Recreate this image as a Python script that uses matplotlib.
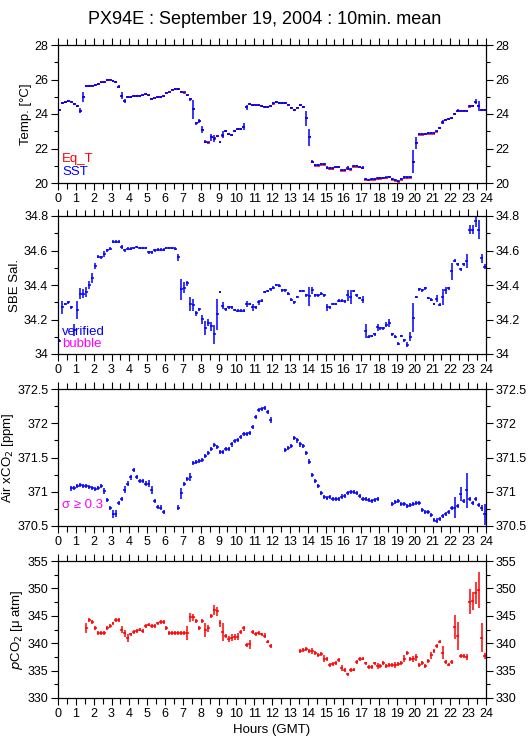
import numpy as np
import matplotlib
matplotlib.use("Agg")
import matplotlib.pyplot as plt
from matplotlib.ticker import MultipleLocator, FuncFormatter

plt.rcParams["font.family"] = ["Liberation Sans", "DejaVu Sans"]

# 10 minute means, one row per hour (6 values per row)
sst = [
    24.25, 24.65, 24.68, 24.75, 24.72, 24.60,
    24.45, 24.20, 25.00, 25.62, 25.64, 25.65,
    25.68, 25.72, 25.83, 25.85, 25.97, 26.00,
    25.92, 25.85, 25.58, 25.05, 24.75, 25.00,
    25.00, 25.05, 25.06, 25.06, 25.08, 25.14,
    25.08, 24.88, 24.90, 24.98, 25.00, 25.02,
    25.20, 25.30, 25.42, 25.45, 25.45, 25.30,
    25.25, 25.08, 24.85, 24.27, 23.46, 23.60,
    23.10, 22.40, 22.35, 22.65, 22.60, 22.70,
    22.36, 22.80, 23.00, 22.82, 22.80, 23.00,
    23.12, 23.15, 23.27, 24.40, 24.58, 24.52,
    24.50, 24.50, 24.45, 24.40, 24.42, 24.48,
    24.62, 24.70, 24.64, 24.62, 24.62, 24.55,
    24.33, 24.23, 24.37, 24.52, 24.42, 23.75,
    22.65, 21.24, 21.04, 21.04, 21.10, 21.10,
    20.89, 20.85, 20.85, 20.95, 20.95, 20.75,
    20.75, 20.85, 20.80, 20.98, 20.98, 20.95,
    20.89, 20.23, 20.20, 20.22, 20.23, 20.27,
    20.30, 20.31, 20.32, 20.37, 20.23, 20.17,
    20.10, 20.23, 20.33, 20.33, 20.34, 21.24,
    22.34, 22.84, 22.85, 22.86, 22.88, 22.88,
    22.88, 23.03, 23.20, 23.54, 23.68, 23.70,
    23.75, 24.00, 24.20, 24.20, 24.20, 24.20,
    24.47, 24.48, 24.72, 24.48, 24.23, 24.22,
]
sst_err_default = 0.05
sst_err = {1.25: 0.12, 1.42: 0.3, 3.42: 0.08, 3.58: 0.2, 3.75: 0.1, 7.42: 0.1,
           7.58: 0.55, 7.75: 0.1, 7.92: 0.12, 8.08: 0.2, 8.25: 0.1, 8.58: 0.2,
           8.75: 0.2, 9.25: 0.2, 10.42: 0.2, 10.58: 0.15, 13.92: 0.45, 14.08: 0.5,
           14.25: 0.1, 15.08: 0.1, 16.25: 0.12, 17.08: 0.1, 19.92: 0.65, 20.08: 0.35,
           21.58: 0.12, 22.42: 0.08, 23.42: 0.15, 23.58: 0.3}

eq_t = [
    24.25, 24.65, 24.68, 24.75, 24.72, 24.60,
    24.45, 24.20, 25.00, 25.62, 25.64, 25.65,
    25.68, 25.72, 25.83, 25.85, 25.97, 26.00,
    25.92, 25.85, 25.58, 25.05, 24.75, 25.00,
    25.00, 25.05, 25.06, 25.06, 25.08, 25.14,
    25.08, 24.88, 24.90, 24.98, 25.00, 25.02,
    25.20, 25.30, 25.42, 25.45, 25.45, 25.30,
    25.20, 25.08, 24.85, 24.27, 23.46, 23.60,
    23.10, 22.40, 22.30, 22.65, 22.55, 22.70,
    22.36, 22.75, 23.00, 22.82, 22.80, 23.00,
    23.12, 23.15, 23.27, 24.40, 24.58, 24.52,
    24.50, 24.50, 24.45, 24.40, 24.42, 24.44,
    24.58, 24.70, 24.64, 24.62, 24.62, 24.55,
    24.33, 24.23, 24.37, 24.52, 24.42, 23.75,
    22.65, 21.20, 21.00, 21.00, 21.05, 21.06,
    20.85, 20.81, 20.81, 20.91, 20.92, 20.72,
    20.72, 20.81, 20.76, 20.95, 20.94, 20.91,
    20.85, 20.19, 20.17, 20.19, 20.20, 20.23,
    20.26, 20.27, 20.28, 20.33, 20.20, 20.14,
    20.07, 20.20, 20.29, 20.29, 20.30, 21.24,
    22.34, 22.80, 22.81, 22.83, 22.85, 22.85,
    22.85, 22.98, 23.20, 23.50, 23.64, 23.70,
    23.75, 24.00, 24.15, 24.15, 24.16, 24.16,
    24.43, 24.48, 24.72, 24.48, 24.23, 24.22,
]

sal = [
    34.077, 34.27, 34.29, 34.30, 34.27, 34.14,
    34.255, 34.35, 34.35, 34.36, 34.40, 34.44,
    34.51, 34.565, 34.56, 34.58, 34.60, 34.61,
    34.65, 34.65, 34.65, 34.62, 34.60, 34.61,
    34.61, 34.615, 34.62, 34.615, 34.615, 34.615,
    34.59, 34.59, 34.60, 34.605, 34.605, 34.605,
    34.615, 34.615, 34.615, 34.61, 34.56, 34.375,
    34.385, 34.41, 34.29, 34.285, 34.235, 34.26,
    34.20, 34.15, 34.18, 34.16, 34.115, 34.23,
    34.36, 34.28, 34.26, 34.27, 34.27, 34.255,
    34.25, 34.25, 34.25, 34.29, 34.29, 34.27,
    34.27, 34.30, 34.31, 34.36, 34.365, 34.375,
    34.385, 34.40, 34.395, 34.37, 34.37, 34.35,
    34.315, 34.30, 34.33, 34.365, 34.365, 34.34,
    34.335, 34.37, 34.34, 34.34, 34.35, 34.34,
    34.27, 34.27, 34.29, 34.29, 34.31, 34.31,
    34.305, 34.34, 34.33, 34.365, 34.34, 34.325,
    34.315, 34.135, 34.10, 34.105, 34.115, 34.155,
    34.15, 34.15, 34.17, 34.18, 34.115, 34.10,
    34.06, 34.105, 34.08, 34.055, 34.10, 34.21,
    34.33, 34.375, 34.37, 34.38, 34.325, 34.315,
    34.29, 34.32, 34.285, 34.33, 34.37, 34.38,
    34.48, 34.54, 34.52, 34.49, 34.52, 34.54,
    34.72, 34.72, 34.77, 34.72, 34.555, 34.505,
]
sal_err_default = 0.008
sal_err = {0.25: 0.04, 0.92: 0.035, 1.08: 0.055, 1.25: 0.03, 1.42: 0.025, 1.58: 0.03,
           1.75: 0.025, 1.92: 0.03, 2.08: 0.02, 2.58: 0.015, 3.58: 0.012, 6.75: 0.02,
           6.92: 0.06, 7.08: 0.03, 7.25: 0.015, 7.42: 0.04, 7.58: 0.035, 7.75: 0.015,
           8.08: 0.025, 8.25: 0.04, 8.42: 0.02, 8.58: 0.025, 8.75: 0.055, 8.92: 0.09,
           9.25: 0.02, 10.58: 0.02, 10.92: 0.02, 11.25: 0.015, 14.08: 0.055, 14.25: 0.02,
           15.08: 0.02, 16.25: 0.03, 16.42: 0.04, 17.08: 0.02, 17.25: 0.04, 17.92: 0.02,
           18.42: 0.015, 18.58: 0.025, 19.58: 0.015, 19.75: 0.025, 19.92: 0.085,
           21.25: 0.02, 21.58: 0.045, 21.75: 0.02, 22.08: 0.05, 22.92: 0.04,
           23.08: 0.025, 23.25: 0.025, 23.42: 0.035, 23.58: 0.055, 23.75: 0.025,
           23.92: 0.015}

nan = np.nan
air_xco2 = [
    nan, nan, nan, nan, 371.05, 371.05,
    371.08, 371.10, 371.09, 371.08, 371.07, 371.05,
    371.04, 371.06, 371.08, 371.01, 370.88, 370.76,
    370.68, 370.68, 370.83, 370.89, 371.03, 371.12,
    371.21, 371.32, 371.21, 371.16, 371.16, 371.12,
    371.12, 371.03, 370.87, 370.78, 370.77, 370.70,
    nan, nan, nan, nan, 370.77, 370.98,
    371.11, 371.18, 371.22, 371.42, 371.44, 371.45,
    371.46, 371.52, 371.57, 371.63, 371.68, 371.65,
    371.58, 371.58, 371.62, 371.63, 371.69, 371.74,
    371.76, 371.80, 371.84, 371.84, 371.86, 371.94,
    372.09, 372.19, 372.21, 372.22, 372.17, 372.05,
    nan, nan, nan, nan, 371.61, 371.64,
    371.67, 371.79, 371.75, 371.69, 371.67, 371.56,
    371.44, 371.25, 371.16, 371.08, 370.98, 370.92,
    370.91, 370.92, 370.90, 370.89, 370.89, 370.93,
    370.94, 370.98, 370.99, 370.99, 370.98, 370.94,
    370.90, 370.89, 370.88, 370.86, 370.88, 370.90,
    nan, nan, nan, nan, 370.82, 370.85,
    370.86, 370.82, 370.82, 370.79, 370.81, 370.82,
    370.83, 370.84, 370.74, 370.70, 370.70, 370.66,
    370.59, 370.58, 370.60, 370.64, 370.68, 370.70,
    370.76, 370.77, 370.79, 370.97, 370.86, 371.02,
    370.90, 370.84, 370.89, 370.81, 370.76, 370.67,
]
air_err_default = 0.03
air_err = {0.75: 0.04, 2.58: 0.04, 3.08: 0.06, 3.25: 0.05, 3.75: 0.05, 4.08: 0.04,
           5.08: 0.05, 5.25: 0.06, 6.75: 0.04, 6.92: 0.08, 7.42: 0.06, 11.92: 0.04,
           13.42: 0.04, 14.08: 0.04, 22.25: 0.15, 22.58: 0.1, 22.92: 0.25,
           23.75: 0.04, 23.92: 0.15}

pco2 = [
    nan, nan, nan, nan, nan, nan,
    nan, nan, nan, 342.7, 344.2, 343.9,
    342.8, 341.8, 341.8, 341.9, 342.7, 343.1,
    343.6, 344.2, 344.2, 342.5, 341.8, 341.0,
    341.6, 342.1, 342.2, 342.5, 342.2, 343.1,
    343.4, 343.1, 343.1, 343.6, 343.9, 343.9,
    342.7, 341.9, 341.9, 341.9, 341.9, 341.8,
    341.9, 341.8, 344.7, 344.7, 344.1, 342.7,
    344.1, 342.4, 342.7, 345.0, 346.1, 345.8,
    343.6, 342.0, 341.3, 340.8, 341.0, 341.1,
    341.2, 342.0, 342.7, 339.7, 339.8, 342.0,
    341.7, 341.8, 341.6, 341.4, 340.3, 339.5,
    nan, nan, nan, nan, nan, nan,
    nan, nan, nan, 338.6, 338.8, 339.0,
    338.6, 338.6, 338.2, 337.8, 338.0, 337.2,
    337.1, 336.0, 336.2, 336.4, 336.9, 335.5,
    335.1, 334.3, 335.1, 335.2, 336.5, 337.1,
    337.2, 336.3, 335.7, 335.7, 336.3, 335.8,
    335.8, 336.4, 335.8, 336.0, 336.0, 336.0,
    336.2, 336.4, 337.2, 338.2, 337.1, 337.1,
    337.4, 336.0, 336.4, 335.8, 336.8, 337.8,
    338.6, 339.5, 340.3, 338.3, 336.6, 336.1,
    336.5, 342.9, 341.3, 337.7, 337.7, 337.5,
    347.6, 347.7, 349.1, 349.7, 341.0, 337.7,
]
pco2_err_default = 0.35
pco2_err = {1.58: 0.9, 3.58: 0.6, 3.75: 0.7, 3.92: 0.7, 7.25: 1.3, 7.42: 0.9, 7.58: 0.6,
            8.25: 1.3, 8.42: 0.6, 8.75: 0.9, 8.92: 0.8, 9.08: 0.6, 9.25: 1.6, 9.58: 0.6,
            9.75: 0.6, 9.92: 0.6, 10.08: 0.6, 10.42: 0.5, 10.75: 0.8, 11.58: 0.5,
            14.25: 0.5, 14.92: 0.6, 15.92: 0.5, 17.92: 0.5, 18.92: 0.6, 19.42: 0.6,
            19.92: 0.6, 20.08: 0.7, 20.92: 0.6, 21.58: 1.2, 22.25: 2.2, 22.42: 2.5,
            22.92: 0.6, 23.08: 2.2, 23.25: 1.6, 23.42: 2.0, 23.58: 3.3, 23.75: 2.6,
            23.92: 0.5}

hours = (np.arange(144) + 0.5) / 6.0


def err_array(default, overrides):
    e = np.full(144, default)
    for h, v in overrides.items():
        e[int(round(h * 6 - 0.5))] = v
    return e


def style_axis(ax, ylim, major, minor):
    ax.set_xlim(0, 24)
    ax.set_ylim(*ylim)
    ax.xaxis.set_major_locator(MultipleLocator(1))
    ax.xaxis.set_minor_locator(MultipleLocator(0.5))
    ax.yaxis.set_major_locator(MultipleLocator(major))
    ax.yaxis.set_minor_locator(MultipleLocator(minor))
    ax.yaxis.set_major_formatter(FuncFormatter(lambda v, p: "%g" % round(v, 3)))
    ax.tick_params(which="both", direction="out", top=True, right=True,
                   labelright=True, labelsize=9, width=0.8, pad=2)
    ax.tick_params(which="major", length=5)
    ax.tick_params(which="minor", length=4)
    ax.tick_params(axis="y", which="minor", length=3)
    for s in ax.spines.values():
        s.set_linewidth(0.9)


fig = plt.figure(figsize=(5.29, 7.39), dpi=100)
left, width = 58 / 529, 428 / 529
boxes = [(45, 183), (216, 354), (389, 526), (561, 698)]
axes = [fig.add_axes([left, 1 - b / 739, width, (b - t) / 739]) for t, b in boxes]

ebkw = dict(fmt="none", capsize=0, elinewidth=1.1, xerr=1 / 12)

ax = axes[0]
ax.errorbar(hours, eq_t, yerr=0.03, ecolor="red", **ebkw)
ax.errorbar(hours, sst, yerr=err_array(sst_err_default, sst_err), ecolor="blue", **ebkw)
style_axis(ax, (20, 28), 2, 1)
ax.set_ylabel("Temp. [°C]", fontsize=9.5, labelpad=2)
ax.text(0.01, 0.15, "Eq_T", color="red", fontsize=9.5, transform=ax.transAxes)
ax.text(0.01, 0.06, "SST", color="blue", fontsize=9.5, transform=ax.transAxes)

ax = axes[1]
ax.errorbar(hours, sal, yerr=err_array(sal_err_default, sal_err), ecolor="blue", **ebkw)
style_axis(ax, (34, 34.8), 0.2, 0.1)
ax.set_ylabel("SBE Sal.", fontsize=9.5, labelpad=2)
ax.text(0.01, 0.14, "verified", color="blue", fontsize=9.5, transform=ax.transAxes)
ax.text(0.01, 0.05, "bubble", color="magenta", fontsize=9.5, transform=ax.transAxes)

ax = axes[2]
ax.errorbar(hours, air_xco2, yerr=err_array(air_err_default, air_err), ecolor="blue", **ebkw)
style_axis(ax, (370.5, 372.5), 0.5, 0.25)
ax.set_ylabel("Air xCO$_2$ [ppm]", fontsize=9.5, labelpad=1)
ax.text(0.01, 0.13, "σ ≥ 0.3", color="magenta", fontsize=9.5, transform=ax.transAxes)

ax = axes[3]
ax.errorbar(hours, pco2, yerr=err_array(pco2_err_default, pco2_err), ecolor="red", **ebkw)
style_axis(ax, (330, 355), 5, 2.5)
ax.set_ylabel("$\\it{p}$CO$_2$ [μ atm]", fontsize=9.5, labelpad=2)
ax.set_xlabel("Hours (GMT)", fontsize=9.5, labelpad=3)

fig.suptitle("PX94E : September 19, 2004 : 10min. mean", fontsize=13, y=0.985)
fig.savefig("out.png", dpi=100)
